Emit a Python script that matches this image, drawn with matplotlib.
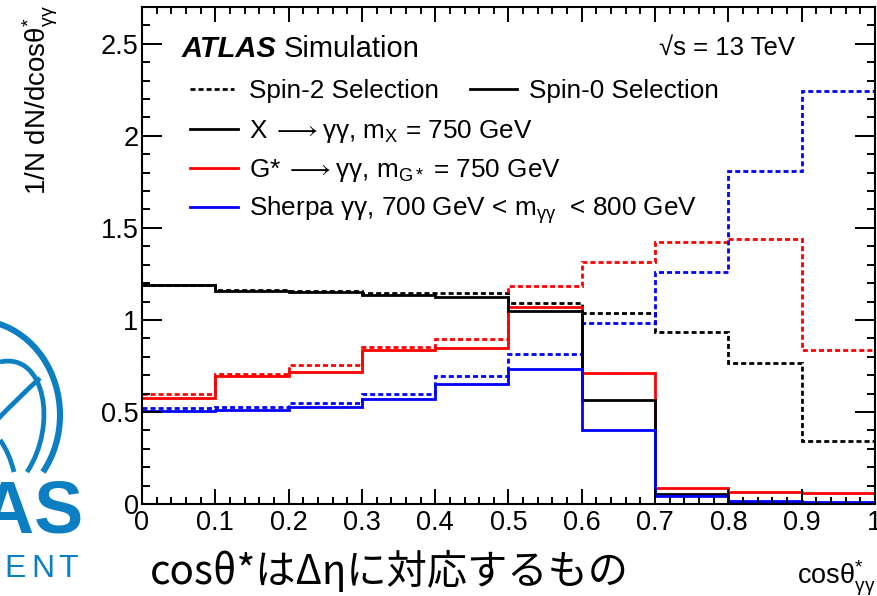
import matplotlib
matplotlib.use("Agg")
import matplotlib.pyplot as plt
from matplotlib.lines import Line2D
from matplotlib.patches import Arc, PathPatch
from matplotlib.path import Path
from matplotlib.ticker import MultipleLocator

plt.rcParams["font.family"] = ["Liberation Sans", "DejaVu Sans"]
plt.rcParams["mathtext.fontset"] = "custom"
plt.rcParams["mathtext.rm"] = "Liberation Sans"
plt.rcParams["mathtext.it"] = "Liberation Sans:italic"
plt.rcParams["mathtext.bf"] = "Liberation Sans:bold"
plt.rcParams["mathtext.fallback"] = "stix"

# cos(theta*) binning and normalised distributions
bin_edges = [0.0, 0.1, 0.2, 0.3, 0.4, 0.5, 0.6, 0.7, 0.8, 0.9, 1.0]

x_spin0 = [1.188, 1.159, 1.152, 1.137, 1.123, 1.050, 0.563, 0.054, 0.012, 0.006]
x_spin2 = [1.190, 1.164, 1.159, 1.148, 1.146, 1.094, 1.036, 0.937, 0.767, 0.343]
g_spin0 = [0.576, 0.693, 0.715, 0.834, 0.848, 1.072, 0.711, 0.085, 0.067, 0.061]
g_spin2 = [0.596, 0.704, 0.753, 0.854, 0.895, 1.186, 1.313, 1.423, 1.440, 0.834]
sherpa_spin0 = [0.505, 0.509, 0.527, 0.572, 0.650, 0.735, 0.401, 0.043, 0.016, 0.013]
sherpa_spin2 = [0.523, 0.527, 0.549, 0.599, 0.695, 0.816, 0.982, 1.260, 1.807, 2.243]

x_ticks = [0.0, 0.1, 0.2, 0.3, 0.4, 0.5, 0.6, 0.7, 0.8, 0.9, 1.0]
x_tick_labels = ["0", "0.1", "0.2", "0.3", "0.4", "0.5", "0.6", "0.7", "0.8", "0.9", "1"]
y_ticks = [0.0, 0.5, 1.0, 1.5, 2.0, 2.5]
y_tick_labels = ["0", "0.5", "1", "1.5", "2", "2.5"]

LW = 2.0
DASH = (0, (1.8, 1.1))
ARROW = r"$\;\longrightarrow$"

fig = plt.figure(figsize=(8.78, 5.96), dpi=100)
fig.patch.set_facecolor("white")

# ---- experiment logo (left margin, partly off the page) ----
logo = fig.add_axes([0, 0, 1, 1], zorder=-1)
logo.set_xlim(0, 878)
logo.set_ylim(596, 0)
logo.axis("off")
LOGO_BLUE = "#0b7fc2"
logo.add_patch(Arc((-25, 415), 170, 190, theta1=-110, theta2=40,
                   color=LOGO_BLUE, lw=4.4))
inner = Path([(0, 362), (45, 352), (58, 425), (27, 472)],
             [Path.MOVETO, Path.CURVE4, Path.CURVE4, Path.CURVE4])
logo.add_patch(PathPatch(inner, fill=False, ec=LOGO_BLUE, lw=3.4))
diag = Path([(-5, 422), (18, 398), (40, 378)],
            [Path.MOVETO, Path.CURVE3, Path.CURVE3])
logo.add_patch(PathPatch(diag, fill=False, ec=LOGO_BLUE, lw=3.4))
low = Path([(0, 440), (9, 452), (14, 472)],
           [Path.MOVETO, Path.CURVE3, Path.CURVE3])
logo.add_patch(PathPatch(low, fill=False, ec=LOGO_BLUE, lw=3.4))
logo.text(83, 533, "LAS", color=LOGO_BLUE, fontsize=53, fontweight="bold",
          ha="right", va="baseline")
for letter, cx in zip("ENT", [15, 43, 68]):
    logo.text(cx, 577, letter, color=LOGO_BLUE, fontsize=23,
              ha="center", va="baseline")

# ---- main histogram panel ----
ax = fig.add_axes([0.16173, 0.15436, 0.83485, 0.83389])

ax.stairs(x_spin2, bin_edges, baseline=None, color="black", lw=LW, ls=DASH)
ax.stairs(g_spin2, bin_edges, baseline=None, color="red", lw=LW, ls=DASH)
ax.stairs(sherpa_spin2, bin_edges, baseline=None, color="blue", lw=LW, ls=DASH)
ax.stairs(g_spin0, bin_edges, baseline=None, color="red", lw=LW)
ax.stairs(x_spin0, bin_edges, baseline=None, color="black", lw=LW)
ax.stairs(sherpa_spin0, bin_edges, baseline=None, color="blue", lw=LW)

ax.set_xlim(0, 1)
ax.set_ylim(0, 2.7)
ax.set_xticks(x_ticks, x_tick_labels)
ax.set_yticks(y_ticks, y_tick_labels)
ax.xaxis.set_minor_locator(MultipleLocator(0.02))
ax.yaxis.set_minor_locator(MultipleLocator(0.1))
ax.tick_params(which="both", direction="in", top=True, right=True,
               width=1.4, labelsize=19.5)
ax.tick_params(axis="x", which="major", length=10.8, pad=4)
ax.tick_params(axis="x", which="minor", length=5)
ax.tick_params(axis="y", which="major", length=14.4, pad=2.5)
ax.tick_params(axis="y", which="minor", length=5.8)
for spine in ax.spines.values():
    spine.set_linewidth(1.5)

# ATLAS label and energy
atlas = ax.text(0.0546, 0.8994, "ATLAS", transform=ax.transAxes,
                fontsize=21, fontweight="bold", style="italic", va="baseline")
ax.annotate("Simulation", xy=(1, 0), xycoords=atlas, xytext=(5, 0),
            textcoords="offset points", fontsize=21, va="bottom")
ax.text(0.7053, 0.9034, "√s = 13 TeV", transform=ax.transAxes,
        fontsize=18.5, va="baseline")

# hand-placed legend
def key(x0, x1, y, color, ls="-"):
    ax.add_line(Line2D([x0, x1], [y, y], transform=ax.transAxes,
                       color=color, lw=LW, ls=ls))

LEG_FS = 18.8
key(0.0655, 0.1255, 0.835, "black", DASH)
ax.text(0.146, 0.8169, "Spin-2 Selection", transform=ax.transAxes,
        fontsize=LEG_FS, va="baseline")
key(0.4475, 0.5116, 0.835, "black")
ax.text(0.528, 0.8169, "Spin-0 Selection", transform=ax.transAxes,
        fontsize=LEG_FS, va="baseline")

key(0.0655, 0.1310, 0.7545, "black")
ax.text(0.146, 0.7364, f"X{ARROW}γγ, " + r"$\mathrm{m}_{\mathrm{X}}$ = 750 GeV",
        transform=ax.transAxes, fontsize=LEG_FS, va="baseline")
key(0.0655, 0.1310, 0.676, "red")
ax.text(0.146, 0.658, f"G*{ARROW}γγ, " + r"$\mathrm{m}_{\mathrm{G*}}$ = 750 GeV",
        transform=ax.transAxes, fontsize=LEG_FS, va="baseline")
key(0.0655, 0.1310, 0.5976, "blue")
ax.text(0.146, 0.5795, r"Sherpa γγ, 700 GeV < $\mathrm{m}_{\mathrm{γγ}}$  < 800 GeV",
        transform=ax.transAxes, fontsize=LEG_FS, va="baseline")

# axis titles
fig.text(40 / 878, 1 - 5 / 596, r"1/N dN/dcos$\mathrm{θ}^{*}_{\mathrm{γγ}}$",
         rotation=90, ha="center", va="top", fontsize=20)
fig.text(875 / 878, 1 - 585 / 596, r"cos$\mathrm{θ}^{*}_{\mathrm{γγ}}$",
         ha="right", va="baseline", fontsize=19.5)

fig.text(150 / 878, 1 - 584 / 596, "cosθ*はΔηに対応するもの", fontsize=29,
         family=["Noto Sans CJK JP", "DejaVu Sans"], va="baseline")

fig.savefig("out.png", dpi=100, facecolor="white")
